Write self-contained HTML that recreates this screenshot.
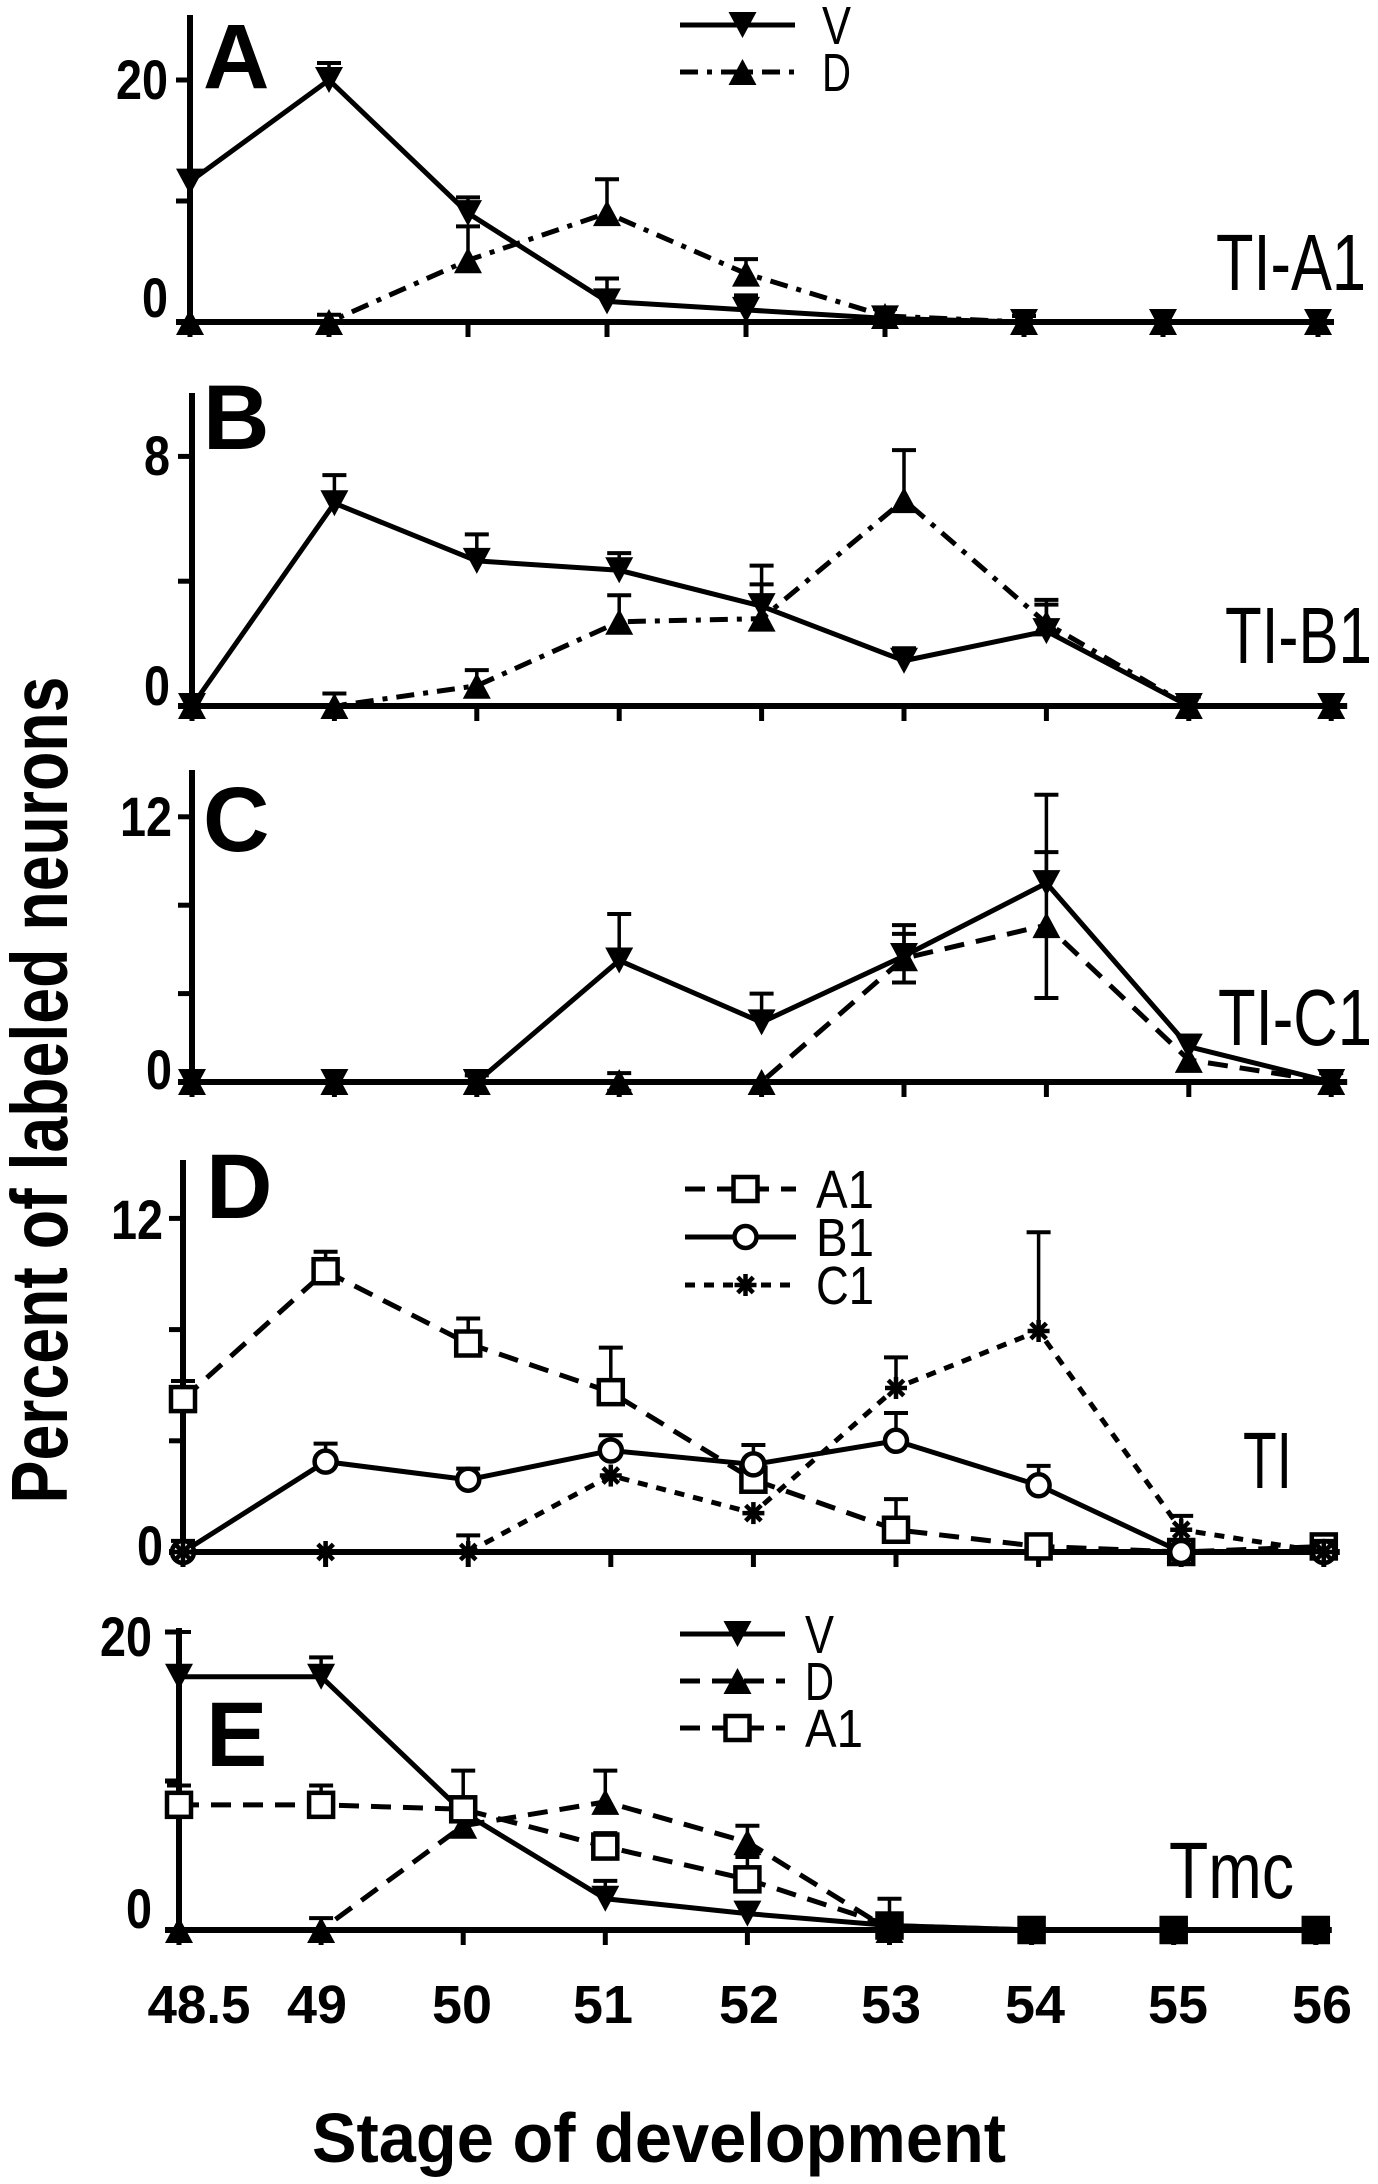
<!DOCTYPE html>
<html><head><meta charset="utf-8"><style>
html,body{margin:0;padding:0;background:#fff;}
svg{display:block;}
text{font-family:"Liberation Sans",Arial,sans-serif;fill:#000;}
</style></head><body>
<svg id="fig" xmlns="http://www.w3.org/2000/svg" width="1378" height="2184" viewBox="0 0 1378 2184">
<text transform="translate(67,1090) rotate(-90)" text-anchor="middle" font-size="80" font-weight="bold" textLength="827" lengthAdjust="spacingAndGlyphs">Percent of labeled neurons</text>
<text x="312" y="2162" font-size="70" font-weight="bold" textLength="694" lengthAdjust="spacingAndGlyphs">Stage of development</text>
</svg>
<script>
const stages = ["48.5","49","50","51","52","53","54","55","56"];
const aV = [11.6,20,9.0,1.7,1.0,0.3,0,0,0];
const aVErr = [0,1.4,1.3,1.9,1.2,0.8,0.5,0,0];
const aD = [0,0,5.1,9.0,4.0,0.5,0,0,0];
const aDErr = [0,0.6,2.8,2.8,1.2,0.6,0,0,0];
const bV = [0,6.5,4.65,4.35,3.2,1.45,2.4,0,0];
const bVErr = [0,0.9,0.85,0.55,1.3,0.4,1.0,0.3,0];
const bD = [0,0,0.65,2.7,2.8,6.6,2.65,0,0];
const bDErr = [0,0.4,0.5,0.85,1.1,1.6,0.6,0,0];
const cV = [0,0,0,5.5,2.7,5.7,9.0,1.6,0];
const cVErr = [0,0,0.3,2.1,1.3,1.4,4.0,0.5,0.4];
const cD = [0,0,0,0,0,5.6,7.1,1.0,0];
const cDErr = [0,0,0,0.4,0,1.1,3.3,0,0];
const dA1 = [5.5,10.1,7.5,5.75,2.6,0.8,0.2,0,0.2];
const dA1Err = [0.65,0.7,0.9,1.6,0.5,1.1,0.3,0,0.3];
const dB1 = [0,3.25,2.6,3.65,3.15,4.0,2.4,0,0];
const dB1Err = [0.4,0.65,0.4,0.55,0.7,1.0,0.7,0,0];
const dC1 = [0,0,0,2.75,1.4,5.9,7.95,0.8,0];
const dC1Err = [0,0,0.6,0,0,1.1,3.55,0.5,0.4];
const eV = [17,17,7.9,2.1,1.1,0.3,0,0,0];
const eVErr = [3,1.3,2.8,1.2,0,0,0,0,0];
const eD = [0,0,7.0,8.6,5.9,0,0,0,0];
const eDErr = [0,0.8,0,2.1,1.1,0,0,0,0];
const eA1 = [8.4,8.4,8.1,5.6,3.4,0.3,0,0,0];
const eA1Err = [1.3,1.3,0,0.9,1.5,1.8,0.5,0,0];
const aTicks = [0,10,20], bTicks = [0,4,8], cTicks = [0,4,8,12], dTicks = [0,4,8,12], eTicks = [0,10,20];

const NS = "http://www.w3.org/2000/svg";
const svg = document.getElementById('fig');
function mk(tag, attrs, parent){
  const e = document.createElementNS(NS, tag);
  for (const k in attrs) e.setAttribute(k, attrs[k]);
  (parent||svg).appendChild(e);
  return e;
}
const DASH = {solid:"", dashdot:"18,9,5,9", dash:"20,12", dot:"10,9"};

function marker(g, type, x, y, filled){
  let m;
  if (type==='down') m = mk('polygon',{points:`${x-14},${y-13} ${x+14},${y-13} ${x},${y+13}`,fill:'#000'},g);
  else if (type==='up') m = mk('polygon',{points:`${x-14},${y+13} ${x+14},${y+13} ${x},${y-13}`,fill:'#000'},g);
  else if (type==='square') m = mk('rect',{x:x-12,y:y-12,width:24,height:24,fill:filled?'#000':'#fff',stroke:'#000','stroke-width':4.5},g);
  else if (type==='circle') m = mk('circle',{cx:x,cy:y,r:11,fill:'#fff',stroke:'#000','stroke-width':4.5},g);
  else {
    m = mk('g',{},g);
    for (let a=0;a<4;a++){
      const ang = a*Math.PI/4;
      mk('line',{x1:x-11*Math.cos(ang),y1:y-11*Math.sin(ang),x2:x+11*Math.cos(ang),y2:y+11*Math.sin(ang),stroke:'#000','stroke-width':4.5},m);
    }
  }
  return m;
}

function panel(p){
  const g = mk('g',{});
  
  
  const xs = i => (p.lastX && i===stages.length-1) ? p.lastX : p.x0 + i*p.step;
  const ys = v => p.zeroY - v*p.ppu;
  const xEnd = xs(stages.length-1) + 16;
  const ya = mk('line',{x1:p.x0,y1:p.top,x2:p.x0,y2:p.zeroY,stroke:'#000','stroke-width':6},g);
  
  
  p.ticks.forEach(t=>{
    mk('line',{x1:p.x0-14,y1:ys(t),x2:p.x0,y2:ys(t),stroke:'#000','stroke-width':5},g);
  });
  p.labels.forEach(l=>{
    const t = mk('text',{x:p.labX,y:l.cy+19,'text-anchor':'end','font-size':56,'font-weight':'bold',textLength:l.t.length*26,lengthAdjust:'spacingAndGlyphs'},g);
    t.textContent = l.t;
    
    
  });
  const xa = mk('line',{x1:p.x0-14,y1:p.zeroY,x2:xEnd,y2:p.zeroY,stroke:'#000','stroke-width':6},g);
  
  
  stages.forEach((s,i)=>{
    mk('line',{x1:xs(i),y1:p.zeroY,x2:xs(i),y2:p.zeroY+15,stroke:'#000','stroke-width':5},g);
  });
  const L = mk('text',{x:p.letX,y:p.letY,'font-size':92,'font-weight':'bold'},g);
  L.textContent = p.id;
  
  
  const R = mk('text',{x:p.rx,y:p.ry,'font-size':80,textLength:p.rw,lengthAdjust:'spacingAndGlyphs'},g);
  R.textContent = p.region;
  
  
  p.series.forEach(s=>{
    const sg = mk('g',{},g);
    
    
    s.vals.forEach((v,i)=>{
      const e = s.err[i];
      if (e>0){
        const x = xs(i), y1 = ys(v), y2 = ys(v+e);
        mk('line',{x1:x,y1:y1,x2:x,y2:y2,stroke:'#000','stroke-width':3.5},sg);
        mk('line',{x1:x-12,y1:y2,x2:x+12,y2:y2,stroke:'#000','stroke-width':4},sg);
        if (s.both){
          const y3 = ys(v-e);
          mk('line',{x1:x,y1:y1,x2:x,y2:y3,stroke:'#000','stroke-width':3.5},sg);
          mk('line',{x1:x-12,y1:y3,x2:x+12,y2:y3,stroke:'#000','stroke-width':4},sg);
        }
      }
    });
    const pts = s.vals.map((v,i)=>`${xs(i)},${ys(v)}`).join(' ');
    const ln = mk('polyline',{points:pts,fill:'none',stroke:'#000','stroke-width':5,'stroke-dasharray':DASH[s.dash],'stroke-linejoin':'round'},sg);
    
    
    s.vals.forEach((v,i)=>{
      const m = marker(sg, s.marker, xs(i), ys(v), s.filledFrom!==undefined && i>=s.filledFrom);
      
      
    });
  });
  if (p.legend){
    const lg = mk('g',{},g);
    
    
    p.legend.items.forEach((it,k)=>{
      const y = p.legend.y0 + k*p.legend.dy;
      const eg = mk('g',{},lg);
      
      
      mk('line',{x1:p.legend.x1,y1:y,x2:p.legend.x2,y2:y,stroke:'#000','stroke-width':5,'stroke-dasharray':DASH[it.dash]},eg);
      marker(eg, it.marker, (p.legend.x1+p.legend.x2)/2+5, y);
      const t = mk('text',{x:p.legend.tx,y:y+19,'font-size':54,textLength:it.label.length*29,lengthAdjust:'spacingAndGlyphs'},eg);
      t.textContent = it.label;
    });
  }
}

panel({id:'A',x0:190,step:139,lastX:1318,zeroY:322,ppu:12.1,top:15,ticks:aTicks,labX:168,
  labels:[{t:'20',cy:80},{t:'0',cy:298}],letX:203,letY:88,region:'TI-A1',rx:1216,ry:290,rw:150,
  series:[{name:'V',vals:aV,err:aVErr,dash:'solid',marker:'down'},{name:'D',vals:aD,err:aDErr,dash:'dashdot',marker:'up'}],
  legend:{x1:680,x2:795,y0:25,dy:47,tx:822,items:[{label:'V',dash:'solid',marker:'down'},{label:'D',dash:'dashdot',marker:'up'}]}});
panel({id:'B',x0:192,step:142.4,zeroY:706,ppu:31.2,top:393,ticks:bTicks,labX:170,
  labels:[{t:'8',cy:456},{t:'0',cy:686}],letX:203,letY:449,region:'TI-B1',rx:1225,ry:663,rw:147,
  series:[{name:'V',vals:bV,err:bVErr,dash:'solid',marker:'down'},{name:'D',vals:bD,err:bDErr,dash:'dashdot',marker:'up'}]});
panel({id:'C',x0:192,step:142.4,zeroY:1082,ppu:22.1,top:770,ticks:cTicks,labX:172,
  labels:[{t:'12',cy:817},{t:'0',cy:1070}],letX:203,letY:851,region:'TI-C1',rx:1218,ry:1045,rw:154,
  series:[{name:'V',vals:cV,err:cVErr,dash:'solid',marker:'down'},{name:'D',vals:cD,err:cDErr,dash:'dash',marker:'up',both:true}]});
panel({id:'D',x0:183,step:142.6,zeroY:1552,ppu:27.8,top:1160,ticks:dTicks,labX:163,
  labels:[{t:'12',cy:1220},{t:'0',cy:1546}],letX:206,letY:1218,region:'TI',rx:1243,ry:1488,rw:49,
  series:[{name:'A1',vals:dA1,err:dA1Err,dash:'dash',marker:'square'},{name:'B1',vals:dB1,err:dB1Err,dash:'solid',marker:'circle'},{name:'C1',vals:dC1,err:dC1Err,dash:'dot',marker:'star'}],
  legend:{x1:685,x2:796,y0:1189,dy:48,tx:816,items:[{label:'A1',dash:'dash',marker:'square'},{label:'B1',dash:'solid',marker:'circle'},{label:'C1',dash:'dot',marker:'star'}]}});
panel({id:'E',x0:179,step:142.1,zeroY:1930,ppu:14.9,top:1628,ticks:eTicks,labX:152,
  labels:[{t:'20',cy:1637},{t:'0',cy:1909}],letX:206,letY:1766,region:'Tmc',rx:1169,ry:1898,rw:125,
  series:[{name:'V',vals:eV,err:eVErr,dash:'solid',marker:'down'},{name:'D',vals:eD,err:eDErr,dash:'dash',marker:'up'},{name:'A1',vals:eA1,err:eA1Err,dash:'dash',marker:'square',filledFrom:5}],
  legend:{x1:680,x2:785,y0:1634,dy:47,tx:805,items:[{label:'V',dash:'solid',marker:'down'},{label:'D',dash:'dash',marker:'up'},{label:'A1',dash:'dash',marker:'square'}]}});

const tickCx = [199,317,462,603,749,891,1035,1178,1322];
stages.forEach((s,i)=>{
  const t = mk('text',{x:tickCx[i],y:2023,'text-anchor':'middle','font-size':54,'font-weight':'bold',textLength:s.length===4?103:60,lengthAdjust:'spacingAndGlyphs'});
  t.textContent = s;
  
  
});
</script>
</body></html>
